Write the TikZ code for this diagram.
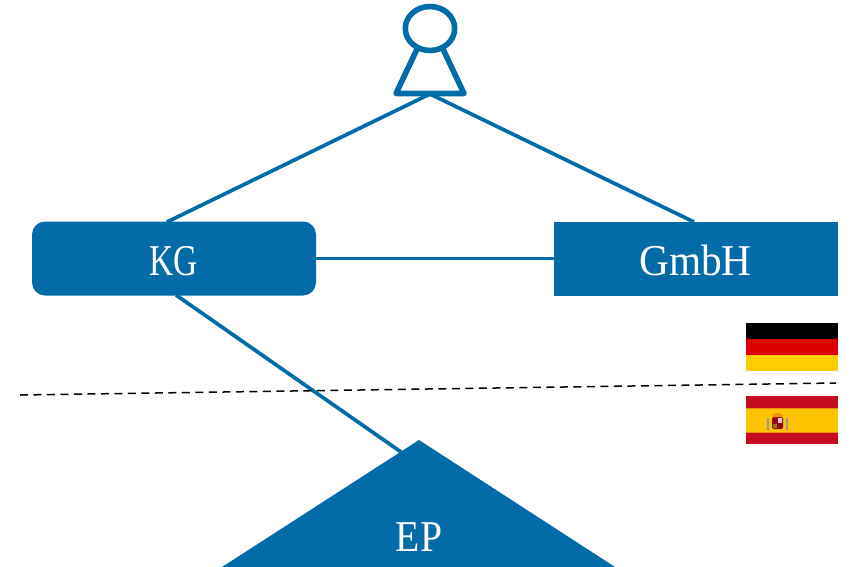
\documentclass[tikz,border=0pt]{standalone}
\usepackage{fontspec}
\setmainfont{Liberation Serif}
\newfontfamily\fkg[FakeStretch=0.76]{Liberation Serif}
\newfontfamily\fgm[FakeStretch=0.94]{Liberation Serif}
\newfontfamily\fep[FakeStretch=0.90]{Liberation Serif}
\definecolor{sap}{HTML}{026BA8}
\definecolor{deB}{HTML}{000000}
\definecolor{deR}{HTML}{DD0000}
\definecolor{deY}{HTML}{FFCE00}
\definecolor{esR}{HTML}{C60B1E}
\definecolor{esY}{HTML}{FFC400}
\tikzset{
  conn/.style={draw=sap,line width=3.7pt},
  entity/.style={fill=sap,text=white,minimum width=284pt,minimum height=74pt,inner sep=0pt},
  person/.style={draw=sap,line width=5.6pt,line join=round,fill=white},
  label/.style={text=white,inner sep=0pt,anchor=base}
}
\begin{document}
\begin{tikzpicture}[x=1pt,y=-1pt]
\useasboundingbox (0,0) rectangle (851,567);
% person
\coordinate (top) at (430,94);
\draw[person] (418,47) -- (396,93.5) -- (464,93.5) -- (442,47);
\draw[person] (430,28.5) ellipse (24.7 and 22);
% entities
\node[entity,rounded corners=13pt] (kg) at (174,258.5) {};
\node[entity] (gmbh) at (696,258.5) {};
\node[label,font=\fontsize{44}{44}\fkg] (kgl) at (174,275) {KG};
\node[label,font=\fontsize{44}{44}\fgm] (gml) at (695.5,275) {GmbH};
% triangle
\coordinate (apex) at (419,440);
\coordinate (bl) at (222,567);
\coordinate (br) at (615,567);
\fill[sap] (apex) -- (bl) -- (br) -- cycle;
\node[label,font=\fontsize{44}{44}\fep] (ep) at (419,551) {EP};
% connectors
\coordinate (kgtop) at (167,222);
\coordinate (gmbhtop) at (694,222);
\coordinate (kgbot) at (176,295);
\coordinate (eptop) at (401,452);
\draw[conn] (top) -- (kgtop);
\draw[conn] (top) -- (gmbhtop);
\draw[conn] (kg.east) -- (gmbh.west);
\draw[conn] (kgbot) -- (eptop);
% border
\coordinate (bl2) at (20,395);
\coordinate (br2) at (836,383);
\draw[black,line width=1.5pt,dash pattern=on 8pt off 5.5pt] (bl2) -- (br2);
% German flag
\fill[deB] (746,323) rectangle (838,339);
\fill[deR] (746,339) rectangle (838,355);
\fill[deY] (746,355) rectangle (838,371);
% Spanish flag
\fill[esR] (746,396) rectangle (838,408);
\fill[esY] (746,408) rectangle (838,432);
\fill[esR] (746,432) rectangle (838,444);
\fill[esY!70!esR] (746,407.5) rectangle (838,408.5);
\fill[esY!70!esR] (746,431.5) rectangle (838,432.5);
% coat of arms
\fill[esR!75!black,rounded corners=1.5pt] (772,417) rectangle (783,429);
\fill[esR!25!white] (777.5,418) rectangle (782,423);
\fill[esY!60!black] (773,423.5) rectangle (777,428);
\fill[esY!75!esR] (772,415) .. controls (774,412.5) and (781,412.5) .. (783,415) -- (783,417) -- (772,417) -- cycle;
\fill[black!40] (767,418) rectangle (769,429);
\fill[black!40] (786,418) rectangle (788,429);
\fill[esY!70!esR] (766,429) rectangle (770,430);
\fill[esY!70!esR] (785,429) rectangle (789,430);
\end{tikzpicture}
\end{document}
